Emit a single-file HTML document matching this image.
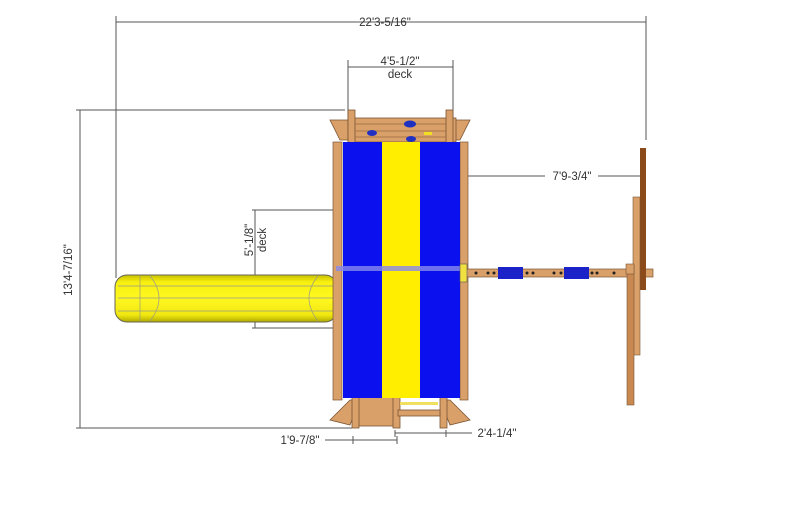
<!DOCTYPE html>
<html><head><style>
html,body{margin:0;padding:0;background:#fff;width:800px;height:515px;overflow:hidden}
text{font-family:"Liberation Sans",sans-serif;font-size:11.5px;fill:#333}
</style></head><body>
<svg width="800" height="515" viewBox="0 0 800 515" xmlns="http://www.w3.org/2000/svg">
<defs>
<linearGradient id="sg" x1="0" y1="0" x2="0" y2="1">
<stop offset="0" stop-color="#c8c000"/><stop offset="0.15" stop-color="#f8f010"/><stop offset="0.5" stop-color="#fff820"/><stop offset="0.85" stop-color="#f0e810"/><stop offset="1" stop-color="#b0a800"/>
</linearGradient>
</defs>
<g stroke="#555" stroke-width="1" fill="none">
<line x1="116" y1="22" x2="646" y2="22"/>
<line x1="116" y1="16" x2="116" y2="278"/>
<line x1="646" y1="16" x2="646" y2="140"/>
<line x1="80" y1="110" x2="80" y2="428"/>
<line x1="76" y1="110" x2="345" y2="110"/>
<line x1="76" y1="428" x2="352" y2="428"/>
<line x1="348" y1="67" x2="453" y2="67"/>
<line x1="348" y1="60" x2="348" y2="122"/>
<line x1="453" y1="60" x2="453" y2="122"/>
<line x1="255" y1="210" x2="255" y2="328"/>
<line x1="252" y1="210" x2="335" y2="210"/>
<line x1="252" y1="328" x2="335" y2="328"/>
<line x1="462" y1="176" x2="545" y2="176"/>
<line x1="598" y1="176" x2="646" y2="176"/>
<line x1="325" y1="440" x2="397" y2="440"/>
<line x1="395" y1="433" x2="472" y2="433"/>
<line x1="353" y1="436" x2="353" y2="444"/><line x1="397" y1="436" x2="397" y2="444"/>
<line x1="395" y1="430" x2="395" y2="437"/><line x1="446" y1="430" x2="446" y2="437"/>
</g>
<text x="385" y="26" text-anchor="middle">22'3-5/16"</text>
<text x="400" y="65" text-anchor="middle">4'5-1/2"</text>
<text x="400" y="78" text-anchor="middle">deck</text>
<text x="572" y="180" text-anchor="middle">7'9-3/4"</text>
<text x="300" y="444" text-anchor="middle">1'9-7/8"</text>
<text x="497" y="437" text-anchor="middle">2'4-1/4"</text>
<text transform="translate(72,270) rotate(-90)" text-anchor="middle">13'4-7/16"</text>
<text transform="translate(253,240) rotate(-90)" text-anchor="middle">5'-1/8"</text>
<text transform="translate(266,240) rotate(-90)" text-anchor="middle">deck</text>
<!-- slide -->
<rect x="115" y="275" width="222" height="47" rx="12" fill="url(#sg)" stroke="#665" stroke-width="1"/>
<g stroke="#998" stroke-width="0.7" fill="none">
<line x1="118" y1="286" x2="336" y2="286"/><line x1="118" y1="298" x2="336" y2="298"/><line x1="118" y1="311" x2="336" y2="311"/>
<line x1="140" y1="276" x2="140" y2="321"/>
<path d="M150,276 Q168,298 150,321"/>
<path d="M318,276 Q300,298 318,321"/>
</g>
<!-- top deck -->
<g fill="#d9a06a" stroke="#7a5533" stroke-width="0.8">
<polygon points="330,120 350,120 356,140 340,140"/>
<polygon points="470,120 450,120 444,140 460,140"/>
<rect x="348" y="118" width="108" height="24"/>
<rect x="348" y="110" width="7" height="34"/><rect x="446" y="110" width="7" height="34"/>
</g>
<g stroke="#9b6a40" stroke-width="0.7"><line x1="355" y1="124" x2="446" y2="124"/><line x1="355" y1="131" x2="446" y2="131"/><line x1="355" y1="137" x2="446" y2="137"/></g>
<ellipse cx="410" cy="124" rx="6" ry="3.5" fill="#2030c0"/>
<ellipse cx="372" cy="133" rx="5" ry="3" fill="#2030c0"/>
<ellipse cx="411" cy="139" rx="5" ry="3" fill="#2030c0"/>
<rect x="424" y="132" width="8" height="3" fill="#f0e020"/>
<!-- bottom deck -->
<g fill="#d9a06a" stroke="#7a5533" stroke-width="0.8">
<polygon points="330,420 350,400 360,400 350,425"/>
<polygon points="470,420 450,400 440,400 450,425"/>
<rect x="356" y="396" width="40" height="30"/>
<rect x="352" y="396" width="7" height="32"/><rect x="393" y="396" width="7" height="32"/><rect x="440" y="396" width="7" height="32"/>
<rect x="398" y="410" width="42" height="6"/>
</g>
<rect x="400" y="402" width="38" height="3" fill="#f0e060"/>
<!-- side posts -->
<rect x="333" y="142" width="9" height="258" fill="#d9a06a" stroke="#7a5533" stroke-width="0.7"/>
<rect x="460" y="142" width="8" height="258" fill="#d9a06a" stroke="#7a5533" stroke-width="0.7"/>
<!-- panel -->
<rect x="343" y="142" width="39" height="256" fill="#0a10ee"/>
<rect x="382" y="142" width="38" height="256" fill="#ffee00"/>
<rect x="420" y="142" width="40" height="256" fill="#0a10ee"/>
<rect x="336" y="266" width="124" height="5" fill="#8888ee" opacity="0.8"/>
<!-- swing beam -->
<rect x="465" y="269" width="188" height="8" fill="#d9a06a" stroke="#7a5533" stroke-width="0.7"/>
<rect x="460" y="264" width="7" height="18" fill="#f0e040" stroke="#555" stroke-width="0.6"/>
<rect x="498" y="267" width="25" height="12" fill="#1a22c8"/>
<rect x="564" y="267" width="25" height="12" fill="#1a22c8"/>
<g fill="#222"><circle cx="476" cy="273" r="1.5"/><circle cx="488" cy="273" r="1.5"/><circle cx="494" cy="273" r="1.5"/><circle cx="527" cy="273" r="1.5"/><circle cx="533" cy="273" r="1.5"/><circle cx="554" cy="273" r="1.5"/><circle cx="561" cy="273" r="1.5"/><circle cx="592" cy="273" r="1.5"/><circle cx="597" cy="273" r="1.5"/><circle cx="614" cy="273" r="1.5"/></g>
<!-- A frame -->
<rect x="640" y="148" width="6" height="142" fill="#8a4a1a"/>
<rect x="633" y="197" width="7" height="158" fill="#d9a06a" stroke="#7a5533" stroke-width="0.6"/>
<rect x="627" y="265" width="7" height="140" fill="#c88850" stroke="#7a5533" stroke-width="0.6"/>
<rect x="626" y="264" width="8" height="10" fill="#d9a06a" stroke="#7a5533" stroke-width="0.6"/>
</svg>
</body></html>
